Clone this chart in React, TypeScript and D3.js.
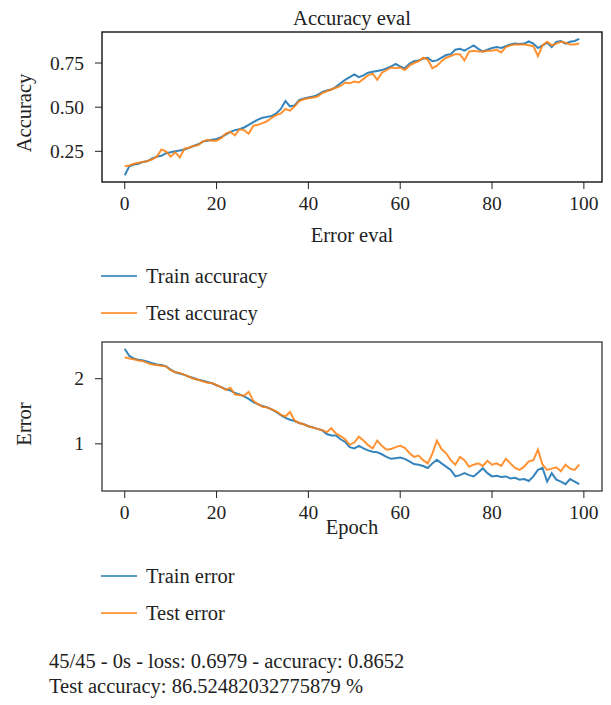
import * as d3 from 'd3'

const EPOCHS = d3.range(100)

const TRAIN_ACC = [
  0.115, 0.165, 0.175, 0.18, 0.19, 0.195, 0.21, 0.22, 0.225, 0.24,
  0.245, 0.25, 0.255, 0.26, 0.27, 0.28, 0.29, 0.305, 0.31, 0.315,
  0.32, 0.33, 0.345, 0.36, 0.37, 0.375, 0.385, 0.4, 0.415, 0.43,
  0.44, 0.445, 0.45, 0.465, 0.49, 0.535, 0.505, 0.51, 0.54, 0.55,
  0.555, 0.56, 0.57, 0.585, 0.595, 0.6, 0.615, 0.635, 0.655, 0.67,
  0.685, 0.67, 0.68, 0.695, 0.7, 0.705, 0.71, 0.72, 0.73, 0.745,
  0.73, 0.72, 0.745, 0.76, 0.765, 0.775, 0.78, 0.76, 0.765, 0.78,
  0.795, 0.8, 0.825, 0.83, 0.82, 0.835, 0.85, 0.83, 0.815, 0.825,
  0.835, 0.84, 0.835, 0.845, 0.855, 0.86, 0.858, 0.86, 0.872, 0.86,
  0.835, 0.85, 0.865, 0.84, 0.87, 0.875, 0.86, 0.87, 0.875, 0.887,
]

const TEST_ACC = [
  0.165, 0.17, 0.18, 0.185, 0.19, 0.195, 0.205, 0.22, 0.26, 0.25,
  0.22, 0.245, 0.215, 0.265, 0.27, 0.28, 0.285, 0.305, 0.315, 0.31,
  0.31, 0.325, 0.35, 0.36, 0.34, 0.375, 0.37, 0.35, 0.395, 0.4,
  0.41, 0.42, 0.44, 0.455, 0.465, 0.49, 0.48, 0.505, 0.535, 0.545,
  0.55, 0.555, 0.56, 0.58, 0.59, 0.6, 0.61, 0.62, 0.64, 0.635,
  0.645, 0.64, 0.66, 0.68, 0.69, 0.655, 0.695, 0.71, 0.725, 0.72,
  0.725, 0.71, 0.735, 0.75, 0.76, 0.78, 0.77, 0.72, 0.735, 0.76,
  0.78, 0.79, 0.8, 0.8, 0.765, 0.815, 0.82, 0.815, 0.815, 0.82,
  0.82, 0.825, 0.81, 0.84, 0.85, 0.855, 0.855, 0.855, 0.85, 0.845,
  0.79, 0.85, 0.87, 0.85, 0.86, 0.87, 0.865, 0.855, 0.855, 0.86,
]

const TRAIN_ERR = [
  2.46, 2.35, 2.31, 2.29, 2.28, 2.26, 2.24, 2.22, 2.21, 2.19,
  2.14, 2.1, 2.08, 2.06, 2.03, 2.01, 1.985, 1.97, 1.95, 1.93,
  1.9, 1.87, 1.84, 1.82, 1.78, 1.76, 1.73, 1.69, 1.64, 1.61,
  1.58, 1.56, 1.53, 1.49, 1.44, 1.4, 1.37, 1.35, 1.32, 1.3,
  1.27, 1.25, 1.23, 1.21, 1.15, 1.13, 1.13, 1.07, 1.03, 0.95,
  0.93, 0.97, 0.93, 0.9, 0.88, 0.87, 0.84, 0.8, 0.77, 0.78,
  0.79, 0.77, 0.73, 0.69, 0.68, 0.66, 0.63, 0.7, 0.755, 0.7,
  0.65, 0.6, 0.5, 0.52, 0.55, 0.52, 0.5, 0.56, 0.625, 0.55,
  0.5, 0.51, 0.49, 0.5, 0.47, 0.48, 0.45, 0.46, 0.43, 0.5,
  0.6, 0.63, 0.42, 0.55, 0.45, 0.42, 0.38, 0.46, 0.42, 0.38,
]

const TEST_ERR = [
  2.33, 2.31, 2.3, 2.28, 2.27, 2.24, 2.22, 2.21, 2.2, 2.19,
  2.13, 2.1, 2.09, 2.06, 2.03, 2.0, 1.985, 1.96, 1.94, 1.935,
  1.9, 1.87, 1.83, 1.86, 1.76, 1.75, 1.74, 1.8, 1.66, 1.61,
  1.57, 1.56, 1.53, 1.5, 1.45, 1.42, 1.49, 1.36, 1.32, 1.3,
  1.27, 1.25, 1.23, 1.21, 1.18, 1.24, 1.16, 1.12, 1.07, 0.985,
  1.02, 1.11, 1.05, 0.98, 0.93, 1.05, 0.97, 0.91, 0.92, 0.95,
  0.97, 0.94, 0.86, 0.8, 0.82, 0.75, 0.7, 0.85, 1.05, 0.92,
  0.855, 0.75, 0.68, 0.8, 0.75, 0.65, 0.68, 0.7, 0.66, 0.74,
  0.68, 0.7, 0.66, 0.77, 0.7, 0.63, 0.6, 0.65, 0.73, 0.75,
  0.91, 0.68, 0.6, 0.62, 0.64, 0.58, 0.68, 0.62, 0.6, 0.68,
]

const X_TICKS = [0, 20, 40, 60, 80, 100]
const ACC_TICKS = [0.25, 0.5, 0.75]
const ERR_TICKS = [1, 2]
const ACC_LEGEND = ['Train accuracy', 'Test accuracy']
const ERR_LEGEND = ['Train error', 'Test error']
const LOG_LINES = [
  '45/45 - 0s - loss: 0.6979 - accuracy: 0.8652',
  'Test accuracy: 86.52482032775879 %',
]

const BLUE = '#1f77b4'
const ORANGE = '#ff7f0e'
const FONT = '"Liberation Serif", "DejaVu Serif", serif'
const FS = 20.5
const TICK_FS = 19.5

// matplotlib-style 5% padding
function padded(values: number[]): [number, number] {
  const [lo, hi] = d3.extent(values) as [number, number]
  const m = (hi - lo) * 0.05
  return [lo - m, hi + m]
}

type PanelProps = {
  top: number
  bottom: number
  train: number[]
  test: number[]
  yTicks: number[]
  yFmt: (v: number) => string
  frame: string
}

const LEFT = 102
const RIGHT = 602

function Panel({ top, bottom, train, test, yTicks, yFmt, frame }: PanelProps) {
  const x = d3.scaleLinear().domain(padded(EPOCHS)).range([LEFT, RIGHT])
  const y = d3.scaleLinear().domain(padded([...train, ...test])).range([bottom, top])
  const line = d3.line<number>().x((_, i) => x(EPOCHS[i])).y((d) => y(d))

  return (
    <g>
      <path d={line(train) || ''} fill="none" stroke={BLUE} strokeWidth={2} strokeOpacity={0.9} />
      <path d={line(test) || ''} fill="none" stroke={ORANGE} strokeWidth={2} strokeOpacity={0.85} />
      <rect x={LEFT} y={top} width={RIGHT - LEFT} height={bottom - top} fill="none" stroke={frame} strokeWidth={1.4} />
      {X_TICKS.map((t) => (
        <g key={t} transform={`translate(${x(t)},${bottom})`}>
          <line y2={7} stroke="#222" strokeWidth={1} />
          <text y={28} textAnchor="middle" fontSize={TICK_FS} fill="#222">{t}</text>
        </g>
      ))}
      {yTicks.map((t) => (
        <g key={t} transform={`translate(${LEFT},${y(t)})`}>
          <line x2={-7} stroke="#222" strokeWidth={1} />
          <text x={-18} dy="0.34em" textAnchor="end" fontSize={TICK_FS} fill="#222">{yFmt(t)}</text>
        </g>
      ))}
    </g>
  )
}

function Legend({ y0, labels }: { y0: number; labels: string[] }) {
  return (
    <g>
      {labels.map((l, i) => (
        <g key={l} transform={`translate(101,${y0 + i * 37})`}>
          <line x2={36} stroke={i === 0 ? BLUE : ORANGE} strokeWidth={1.3} />
          <text x={45} dy="0.32em" fontSize={FS} fill="#222">{l}</text>
        </g>
      ))}
    </g>
  )
}

export default function App() {
  return (
    <div style={{ position: 'absolute', left: 0, top: 0 }}>
      <svg width={611} height={705} fontFamily={FONT} style={{ display: 'block', background: '#fff' }}>
        <text x={352} y={25} textAnchor="middle" fontSize={FS} fill="#222">Accuracy eval</text>
        <Panel top={32} bottom={182} train={TRAIN_ACC} test={TEST_ACC} yTicks={ACC_TICKS} yFmt={d3.format('.2f')} frame="#111" />
        <text x={352} y={242} textAnchor="middle" fontSize={FS} fill="#222">Error eval</text>
        <text transform="translate(31,113) rotate(-90)" textAnchor="middle" fontSize={FS} fill="#222">Accuracy</text>
        <Legend y0={276} labels={ACC_LEGEND} />

        <Panel top={342} bottom={491} train={TRAIN_ERR} test={TEST_ERR} yTicks={ERR_TICKS} yFmt={d3.format('d')} frame="#444" />
        <text x={352} y={534} textAnchor="middle" fontSize={FS} fill="#222">Epoch</text>
        <text transform="translate(31,424) rotate(-90)" textAnchor="middle" fontSize={FS} fill="#222">Error</text>
        <Legend y0={576} labels={ERR_LEGEND} />

        {LOG_LINES.map((t, i) => (
          <text key={i} x={49} y={668 + i * 25} fontSize={FS} fill="#222">{t}</text>
        ))}
      </svg>
    </div>
  )
}
